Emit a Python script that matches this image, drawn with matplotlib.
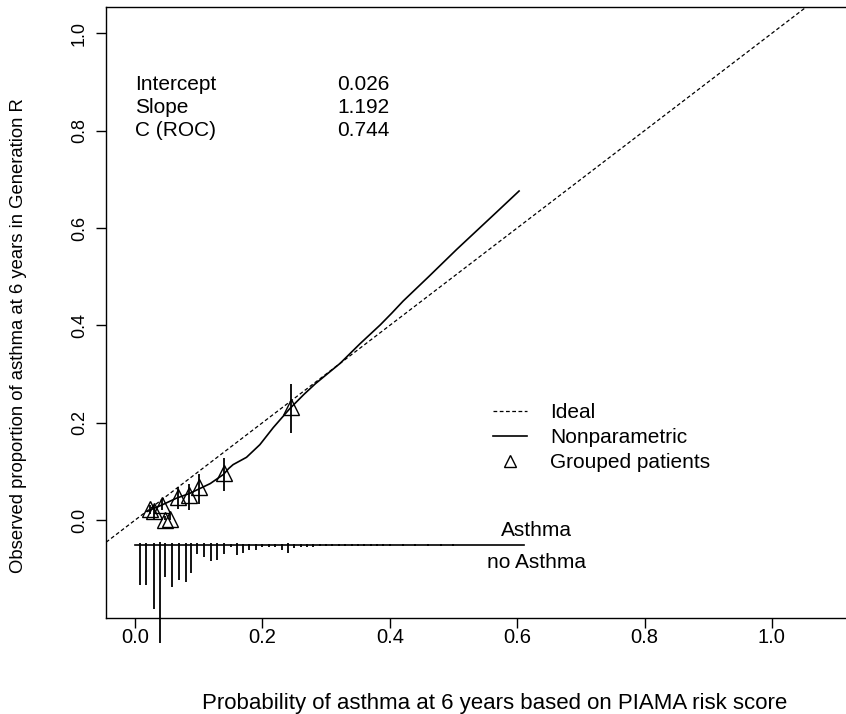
import numpy as np
import matplotlib
matplotlib.use("Agg")
import matplotlib.pyplot as plt
from matplotlib.lines import Line2D

plt.rcParams['font.family'] = ['Liberation Sans', 'DejaVu Sans']

# Nonparametric calibration curve (loess)
np_x = [0.020, 0.024, 0.042, 0.065, 0.086, 0.102, 0.118, 0.139, 0.147, 0.154,
        0.175, 0.196, 0.217, 0.243, 0.265, 0.283, 0.322, 0.353, 0.385, 0.403,
        0.421, 0.461, 0.505, 0.568, 0.603]
np_y = [0.018, 0.021, 0.031, 0.045, 0.055, 0.065, 0.075, 0.094, 0.106, 0.114,
        0.129, 0.155, 0.190, 0.229, 0.258, 0.280, 0.322, 0.362, 0.401, 0.425,
        0.450, 0.500, 0.556, 0.633, 0.676]

# Grouped patients (deciles) with CI
grp_x = [0.024, 0.029, 0.043, 0.047, 0.055, 0.067, 0.084, 0.101, 0.140, 0.245]
grp_y = [0.022, 0.018, 0.032, 0.001, 0.003, 0.047, 0.051, 0.067, 0.096, 0.233]
grp_lo = [0.012, 0.003, 0.020, 0.000, 0.000, 0.022, 0.021, 0.034, 0.060, 0.178]
grp_hi = [0.032, 0.031, 0.044, 0.008, 0.012, 0.067, 0.075, 0.094, 0.127, 0.279]

# spike histogram of predicted probabilities
spike_x = [0.008, 0.017, 0.029, 0.039, 0.047, 0.058, 0.069, 0.080, 0.088, 0.098,
           0.109, 0.119, 0.128, 0.139, 0.150, 0.160, 0.169, 0.179, 0.190, 0.200,
           0.210, 0.220, 0.230, 0.240, 0.249, 0.260, 0.270, 0.280, 0.290, 0.300,
           0.310, 0.320, 0.330, 0.340, 0.350, 0.360, 0.370, 0.380, 0.390, 0.400,
           0.420, 0.440, 0.460, 0.480, 0.500]
spike_no = [0.082, 0.082, 0.132, 0.202, 0.065, 0.086, 0.072, 0.077, 0.057, 0.018,
            0.025, 0.034, 0.031, 0.018, 0.004, 0.021, 0.016, 0.010, 0.010, 0.004,
            0.004, 0.004, 0.010, 0.016, 0.007, 0.004, 0.004, 0.004, 0.003, 0.003,
            0.003, 0.003, 0.003, 0.002, 0.002, 0.003, 0.002, 0.002, 0.002, 0.002,
            0.002, 0.002, 0.002, 0.002, 0.002]
spike_yes = [0.003, 0.004, 0.004, 0.006, 0.003, 0.004, 0.004, 0.003, 0.004, 0.003,
             0.003, 0.003, 0.004, 0.003, 0.002, 0.003, 0.002, 0.002, 0.002, 0.002,
             0.002, 0.002, 0.002, 0.004, 0.002, 0.001, 0.001, 0.001, 0.001, 0.002,
             0.001, 0.001, 0.001, 0.001, 0.001, 0.001, 0.001, 0.001, 0.001, 0.001,
             0.001, 0.001, 0.001, 0.001, 0.001]
hist_base = -0.051
hist_range = [0.0, 0.61]

stats_names = ["Intercept", "Slope", "C (ROC)"]
stats_vals = ["0.026", "1.192", "0.744"]

fig = plt.figure(figsize=(8.46, 7.14), dpi=100)
ax = fig.add_axes([0.1253, 0.1345, 0.9196, 0.8557])
ax.set_xlim(-0.0456, 1.176)
ax.set_ylim(-0.201, 1.054)

# ideal line
ax.plot([-0.1, 1.2], [-0.1, 1.2], color='black', lw=0.9, dashes=(3, 2))
# nonparametric
ax.plot(np_x, np_y, color='black', lw=1.2)
# grouped
ax.vlines(grp_x, grp_lo, grp_hi, color='black', lw=1.3)
ax.plot(grp_x, grp_y, linestyle='none', marker='^', markersize=11,
        markerfacecolor='none', markeredgecolor='black', markeredgewidth=1.0)

# spike histogram
ax.plot(hist_range, [hist_base, hist_base], color='black', lw=1.2)
ax.vlines(spike_x, hist_base, [hist_base - v for v in spike_no], color='black',
          lw=1.3, clip_on=False)
ax.vlines(spike_x, hist_base, [hist_base + v for v in spike_yes], color='black',
          lw=1.3)
ax.text(0.631, -0.021, "Asthma", fontsize=15, ha='center', va='center')
ax.text(0.631, -0.088, "no Asthma", fontsize=15, ha='center', va='center')

for i, (n, v) in enumerate(zip(stats_names, stats_vals)):
    ax.text(0.0, 0.895 - i * 0.0475, n, fontsize=15, va='center', ha='left')
    ax.text(0.317, 0.895 - i * 0.0475, v, fontsize=15, va='center', ha='left')

handles = [Line2D([], [], color='black', lw=0.9, dashes=(3, 2)),
           Line2D([], [], color='black', lw=1.2),
           Line2D([], [], linestyle='none', marker='^', markersize=9,
                  markerfacecolor='none', markeredgecolor='black')]
ax.legend(handles, ["Ideal", "Nonparametric", "Grouped patients"],
          loc='upper left', bbox_to_anchor=(493 / 846, 1 - 403 / 714),
          bbox_transform=fig.transFigure, frameon=False, fontsize=15,
          handlelength=1.65, handletextpad=1.1, labelspacing=0.3,
          borderaxespad=0, borderpad=0)

ax.set_xticks([0.0, 0.2, 0.4, 0.6, 0.8, 1.0])
ax.set_yticks([0.0, 0.2, 0.4, 0.6, 0.8, 1.0])
ax.set_xticklabels(["0.0", "0.2", "0.4", "0.6", "0.8", "1.0"], fontsize=14.5)
ax.set_yticklabels(["0.0", "0.2", "0.4", "0.6", "0.8", "1.0"], rotation=90,
                   va='center', fontsize=13)
ax.tick_params(direction='out', length=7, width=1, colors='black')
ax.tick_params(axis='x', pad=0)
ax.tick_params(axis='y', pad=6)
for s in ax.spines.values():
    s.set_linewidth(1.0)
ax.spines['right'].set_visible(False)

ax.set_xlabel("Probability of asthma at 6 years based on PIAMA risk score",
              fontsize=16, labelpad=33)
ax.set_ylabel("Observed proportion of asthma at 6 years in Generation R",
              fontsize=13.3)
ax.yaxis.set_label_coords(-0.1015, 0.4615)

fig.savefig("out.png", dpi=100)
